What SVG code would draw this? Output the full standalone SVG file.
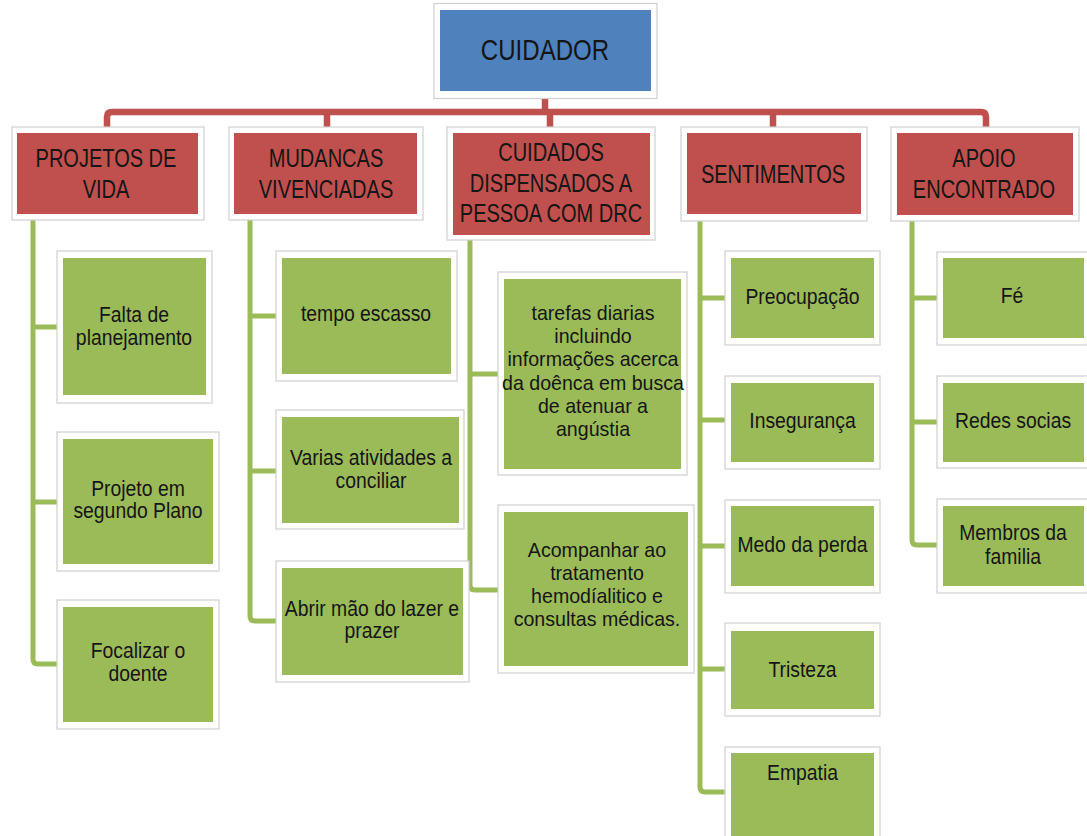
<svg xmlns="http://www.w3.org/2000/svg" width="1087" height="836" viewBox="0 0 1087 836">
<style>
.frame{fill:#ffffff;stroke:#cfcfcf;stroke-width:1.2}
.blue{fill:#4F81BD}
.red{fill:#C0504D}
.green{fill:#9BBB59}
text{font-family:"Liberation Sans",Arial,sans-serif;fill:#151515;text-anchor:middle;transform-box:fill-box;transform-origin:center}
.t0{font-size:29px;transform:scaleX(0.83)}
.th{font-size:26px;transform:scaleX(0.77)}
.tg{font-size:22px;transform:scaleX(0.88)}
.tl{font-size:20px;transform:scaleX(0.98)}
.cr{fill:none;stroke:#C0504D;stroke-width:6.5;stroke-linejoin:round}
.cg{fill:none;stroke:#9BBB59;stroke-width:5;stroke-linejoin:round}
</style>
<rect width="1087" height="836" fill="#ffffff"/>
<g id="connectors">
<path class="cr" d="M107,127 V117 Q107,112 112,112 H981 Q986,112 986,117 V127 M327,112 V127 M550,112 V127 M773,112 V127 M545,98 V112"/>
<path class="cg" d="M33,220 V659 Q33,664 38,664 H57 M33,327 H57 M33,502 H57"/>
<path class="cg" d="M250,220 V616 Q250,621 255,621 H276 M250,316 H276 M250,471 H276"/>
<path class="cg" d="M470,240 V585 Q470,590 475,590 H498 M470,374 H498"/>
<path class="cg" d="M700,221 V787 Q700,792 705,792 H725 M700,298 H725 M700,420 H725 M700,546 H725 M700,669 H725"/>
<path class="cg" d="M912,221 V540 Q912,545 917,545 H937 M912,298 H937 M912,422 H937"/>
</g>
<g id="cuidador">
<rect class="frame" x="434" y="3.5" width="223" height="95"/>
<rect class="blue" x="440" y="10" width="211" height="81"/>
<text class="t0" x="545" y="60">CUIDADOR</text>
</g>
<g id="projetos">
<rect class="frame" x="12" y="127" width="192" height="93"/>
<rect class="red" x="17" y="133" width="181" height="81"/>
<text class="th" x="106" y="167">PROJETOS DE<tspan x="106" y="198">VIDA</tspan></text>
</g>
<g id="mudancas">
<rect class="frame" x="229" y="127" width="194" height="93"/>
<rect class="red" x="234" y="133" width="183" height="81"/>
<text class="th" x="326" y="167">MUDANCAS<tspan x="326" y="198">VIVENCIADAS</tspan></text>
</g>
<g id="cuidados">
<rect class="frame" x="447" y="127" width="208" height="113"/>
<rect class="red" x="453" y="133" width="197" height="102"/>
<text class="th" x="551" y="161">CUIDADOS<tspan x="551" y="192">DISPENSADOS A</tspan><tspan x="551" y="222">PESSOA COM DRC</tspan></text>
</g>
<g id="sentimentos">
<rect class="frame" x="681" y="127" width="186" height="94"/>
<rect class="red" x="687" y="133" width="174" height="81"/>
<text class="th" x="773" y="183">SENTIMENTOS</text>
</g>
<g id="apoio">
<rect class="frame" x="891" y="127" width="188" height="94"/>
<rect class="red" x="897" y="133" width="176" height="82"/>
<text class="th" x="984" y="167">APOIO<tspan x="984" y="198">ENCONTRADO</tspan></text>
</g>
<g id="falta">
<rect class="frame" x="57" y="251" width="155" height="152"/>
<rect class="green" x="63" y="258" width="143" height="137"/>
<text class="tg" x="134" y="322">Falta de<tspan x="134" y="345">planejamento</tspan></text>
</g>
<g id="projeto-segundo">
<rect class="frame" x="57" y="432" width="162" height="139"/>
<rect class="green" x="63" y="439" width="150" height="125"/>
<text class="tg" x="138" y="496">Projeto em<tspan x="138" y="518">segundo Plano</tspan></text>
</g>
<g id="focalizar">
<rect class="frame" x="57" y="600" width="162" height="129"/>
<rect class="green" x="63" y="607" width="150" height="115"/>
<text class="tg" x="138" y="658">Focalizar o<tspan x="138" y="681">doente</tspan></text>
</g>
<g id="tempo">
<rect class="frame" x="276" y="251" width="181" height="130"/>
<rect class="green" x="282" y="258" width="169" height="116"/>
<text class="tg" x="366" y="321">tempo escasso</text>
</g>
<g id="varias">
<rect class="frame" x="276" y="410" width="188" height="119"/>
<rect class="green" x="282" y="417" width="177" height="106"/>
<text class="tg" x="371" y="465">Varias atividades a<tspan x="371" y="488">conciliar</tspan></text>
</g>
<g id="abrir">
<rect class="frame" x="276" y="561" width="193" height="121"/>
<rect class="green" x="282" y="568" width="181" height="107"/>
<text class="tg" x="372" y="616">Abrir mão do lazer e<tspan x="372" y="638">prazer</tspan></text>
</g>
<g id="tarefas">
<rect class="frame" x="498" y="272" width="189" height="203"/>
<rect class="green" x="504" y="279" width="177" height="190"/>
<text class="tl" x="593" y="320">tarefas diarias<tspan x="593" y="343">incluindo</tspan><tspan x="593" y="366">informações acerca</tspan><tspan x="593" y="390">da doênca em busca</tspan><tspan x="593" y="413">de atenuar a</tspan><tspan x="593" y="436">angústia</tspan></text>
</g>
<g id="acompanhar">
<rect class="frame" x="498" y="505" width="196" height="168"/>
<rect class="green" x="504" y="512" width="184" height="154"/>
<text class="tl" x="597" y="557">Acompanhar ao<tspan x="597" y="580">tratamento</tspan><tspan x="597" y="603">hemodíalitico e</tspan><tspan x="597" y="626">consultas médicas.</tspan></text>
</g>
<g id="preocupacao">
<rect class="frame" x="725" y="251" width="155" height="94"/>
<rect class="green" x="731" y="258" width="143" height="80"/>
<text class="tg" x="802.5" y="304">Preocupação</text>
</g>
<g id="inseguranca">
<rect class="frame" x="725" y="376" width="155" height="93"/>
<rect class="green" x="731" y="383" width="143" height="79"/>
<text class="tg" x="802.5" y="428">Insegurança</text>
</g>
<g id="medo">
<rect class="frame" x="725" y="500" width="155" height="93"/>
<rect class="green" x="731" y="506" width="143" height="80"/>
<text class="tg" x="802.5" y="552">Medo da perda</text>
</g>
<g id="tristeza">
<rect class="frame" x="725" y="623" width="155" height="93"/>
<rect class="green" x="731" y="631" width="143" height="78"/>
<text class="tg" x="802.5" y="677">Tristeza</text>
</g>
<g id="empatia">
<rect class="frame" x="725" y="747" width="155" height="100"/>
<rect class="green" x="731" y="753" width="143" height="90"/>
<text class="tg" x="802.5" y="780">Empatia</text>
</g>
<g id="fe">
<rect class="frame" x="937" y="252" width="153" height="93"/>
<rect class="green" x="943" y="258" width="141" height="80"/>
<text class="tg" x="1012" y="303">Fé</text>
</g>
<g id="redes">
<rect class="frame" x="937" y="376" width="153" height="92"/>
<rect class="green" x="943" y="383" width="141" height="79"/>
<text class="tg" x="1013" y="428">Redes socias</text>
</g>
<g id="membros">
<rect class="frame" x="937" y="499" width="153" height="94"/>
<rect class="green" x="943" y="506" width="141" height="80"/>
<text class="tg" x="1013" y="540">Membros da<tspan x="1013" y="564">familia</tspan></text>
</g>
</svg>
